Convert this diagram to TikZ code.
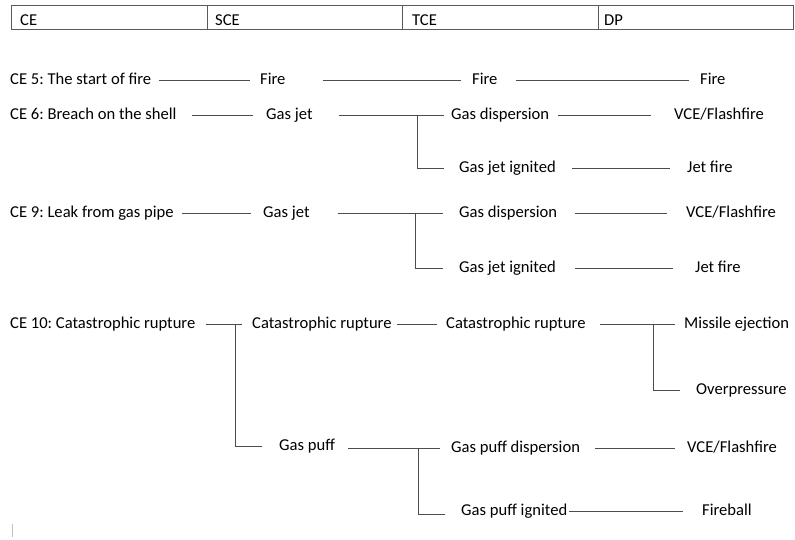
\documentclass[tikz,border=0pt]{standalone}
\usepackage{fontspec}
\setmainfont{Carlito}
\begin{document}
\frenchspacing
\begin{tikzpicture}[x=1pt,y=-1pt,
  lbl/.style={inner sep=0pt, anchor=base west, text height=12pt, text depth=4pt,
              font=\fontsize{16.6}{19}\selectfont\frenchspacing},
  conn/.style={draw=black!70, line width=0.8pt},
  cell/.style={draw=black!65, line width=0.8pt, minimum width=195.6pt,
               minimum height=24pt, inner sep=0pt, anchor=north west}]
\useasboundingbox (0,0) rectangle (795,539);

% header table
\node[cell] (h1) at (11,5) {};
\node[cell] (h2) at (206.6,5) {};
\node[cell] (h3) at (402.2,5) {};
\node[cell] (h4) at (597.8,5) {};
\node[lbl] (t1) at (20,25) {CE};
\node[lbl] (t2) at (215,25) {SCE};
\node[lbl] (t3) at (412,25) {TCE};
\node[lbl] (t4) at (604,25) {DP};

% CE 5
\node[lbl] (ce5) at (10,84.5) {CE 5: The start of fire};
\node[lbl] (f1) at (260,84.5) {Fire};
\node[lbl] (f2) at (472,84.5) {Fire};
\node[lbl] (f3) at (700,84.5) {Fire};
\draw[conn] ([xshift=8pt]ce5.east) -- ([xshift=-10pt]f1.west);
\draw[conn] ([xshift=37pt]f1.east) -- ([xshift=-11pt]f2.west);
\draw[conn] ([xshift=18pt]f2.east) -- ([xshift=-11pt]f3.west);

% CE 6
\node[lbl] (ce6) at (10,119.5) {CE 6: Breach on the shell};
\node[lbl] (gj1) at (266,119.5) {Gas jet};
\node[lbl] (gd1) at (451,119.5) {Gas dispersion};
\node[lbl] (vf1) at (674,119.5) {VCE/Flashfire};
\node[lbl] (gji1) at (459,172.5) {Gas jet ignited};
\node[lbl] (jf1) at (687,172.5) {Jet fire};
\coordinate (b1) at (417,0 |- gj1.east);
\draw[conn] ([xshift=15pt]ce6.east) -- ([xshift=-13pt]gj1.west);
\draw[conn] ([xshift=26pt]gj1.east) -- ([xshift=-7pt]gd1.west);
\draw[conn] (b1) |- ([xshift=-15pt]gji1.west);
\draw[conn] ([xshift=9pt]gd1.east) -- ([xshift=-23pt]vf1.west);
\draw[conn] ([xshift=16pt]gji1.east) -- ([xshift=-17pt]jf1.west);

% CE 9
\node[lbl] (ce9) at (10,217.5) {CE 9: Leak from gas pipe};
\node[lbl] (gj2) at (263,217.5) {Gas jet};
\node[lbl] (gd2) at (459,217.5) {Gas dispersion};
\node[lbl] (vf2) at (686,217.5) {VCE/Flashfire};
\node[lbl] (gji2) at (459,272.5) {Gas jet ignited};
\node[lbl] (jf2) at (695,272.5) {Jet fire};
\coordinate (b2) at (415,0 |- gj2.east);
\draw[conn] ([xshift=8pt]ce9.east) -- ([xshift=-12pt]gj2.west);
\draw[conn] ([xshift=28pt]gj2.east) -- ([xshift=-16pt]gd2.west);
\draw[conn] (b2) |- ([xshift=-16pt]gji2.west);
\draw[conn] ([xshift=18pt]gd2.east) -- ([xshift=-19pt]vf2.west);
\draw[conn] ([xshift=19pt]gji2.east) -- ([xshift=-22pt]jf2.west);

% CE 10
\node[lbl] (ce10) at (10,328.5) {CE 10: Catastrophic rupture};
\node[lbl] (cr1) at (252,328.5) {Catastrophic rupture};
\node[lbl] (cr2) at (446,328.5) {Catastrophic rupture};
\node[lbl] (me) at (684,328.5) {Missile ejection};
\node[lbl] (op) at (696,394.5) {Overpressure};
\node[lbl] (gp) at (279,450.5) {Gas puff};
\node[lbl] (gpd) at (451,452) {Gas puff dispersion};
\node[lbl] (vf3) at (687,452) {VCE/Flashfire};
\node[lbl] (gpi) at (461,515.5) {Gas puff ignited};
\node[lbl] (fb) at (702,515.5) {Fireball};
\coordinate (b3) at (235,0 |- ce10.east);
\coordinate (b4) at (653,0 |- cr2.east);
\coordinate (b5) at (418,0 |- gpd.east);
\draw[conn] ([xshift=10pt]ce10.east) -- ([xshift=-10pt]cr1.west);
\draw[conn] (b3) |- ([xshift=-17pt]gp.west);
\draw[conn] ([xshift=5pt]cr1.east) -- ([xshift=-9pt]cr2.west);
\draw[conn] ([xshift=14pt]cr2.east) -- ([xshift=-9pt]me.west);
\draw[conn] (b4) |- ([xshift=-16pt]op.west);
\draw[conn] ([xshift=13pt]gp.east |- gpd.east) -- ([xshift=-11pt]gpd.west);
\draw[conn] (b5) |- ([xshift=-16pt,yshift=-3pt]gpi.west);
\draw[conn] ([xshift=15pt]gpd.east) -- ([xshift=-12pt]vf3.west);
\draw[conn] ([xshift=2pt]gpi.east) -- ([xshift=-19pt]fb.west);

% faint cursor mark
\draw[black!25, line width=0.6pt] (12,524) -- (12,537);
\end{tikzpicture}
\end{document}
